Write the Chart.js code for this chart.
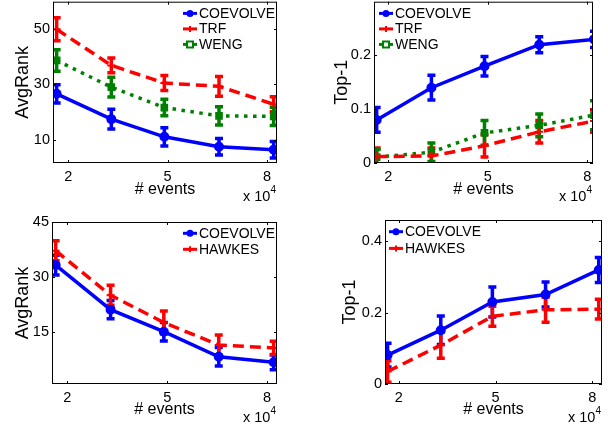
<!DOCTYPE html>
<html>
<head>
<meta charset="utf-8">
<script src="https://cdn.jsdelivr.net/npm/chart.js@4.4.0/dist/chart.umd.min.js"></script>
<style>
html, body { margin: 0; padding: 0; background: #fff; overflow: hidden; }
#wrap { position: relative; width: 608px; height: 427px; overflow: hidden; }
canvas { position: absolute; }
</style>
</head>
<body>
<div id="wrap">
  <canvas id="c1"></canvas>
  <canvas id="c2"></canvas>
  <canvas id="c3"></canvas>
  <canvas id="c4"></canvas>
</div>
<script>
// number of events (x 10^4)
const events = [1.65, 3.3, 4.9, 6.55, 8.2];
const xTicks = [2, 5, 8];

// top left: AvgRank
const rankCoevolve = [26.6, 17.4, 11.0, 7.4, 6.3];
const rankCoevolveErr = [3.3, 3.6, 3.3, 3.0, 3.0];
const rankTrf = [50.0, 36.9, 30.5, 29.3, 22.8];
const rankTrfErr = [4.2, 2.7, 2.7, 3.6, 2.7];
const rankWeng = [38.7, 29.0, 21.6, 18.6, 18.4];
const rankWengErr = [3.9, 3.6, 3.0, 3.3, 3.3];
const rankTicks = [10, 30, 50];

// top right: Top-1
const top1Coevolve = [0.08, 0.14, 0.18, 0.22, 0.23];
const top1CoevolveErr = [0.023, 0.023, 0.018, 0.015, 0.015];
const top1Trf = [0.012, 0.013, 0.032, 0.058, 0.078];
const top1TrfErr = [0.016, 0.015, 0.021, 0.021, 0.021];
const top1Weng = [0.011, 0.02, 0.056, 0.07, 0.089];
const top1WengErr = [0.014, 0.017, 0.023, 0.021, 0.027];
const top1Ticks = [0, 0.1, 0.2];

// bottom left: AvgRank vs Hawkes
const hkRankCoevolve = [33.3, 21.2, 15.2, 8.4, 6.9];
const hkRankCoevolveErr = [2.7, 2.5, 2.5, 2.5, 2.0];
const hkRankHawkes = [37.2, 25.1, 17.7, 11.6, 10.8];
const hkRankHawkesErr = [2.7, 2.7, 3.1, 2.7, 1.8];
const hkRankTicks = [15, 30, 45];

// bottom right: Top-1 vs Hawkes
const hkTop1Coevolve = [0.081, 0.151, 0.23, 0.251, 0.32];
const hkTop1CoevolveErr = [0.033, 0.04, 0.042, 0.035, 0.035];
const hkTop1Hawkes = [0.035, 0.109, 0.19, 0.208, 0.21];
const hkTop1HawkesErr = [0.03, 0.037, 0.028, 0.035, 0.028];
const hkTop1Ticks = [0, 0.2, 0.4];

const FONT = '"Liberation Sans", Arial, Helvetica, sans-serif';

const styles = {
    COEVOLVE: { color: '#0000ff', dash: [], point: 'circle', r: 4 },
    TRF: { color: '#ff0000', dash: [11, 6], point: 'cross', r: 4 },
    WENG: { color: '#008000', dash: [3.5, 5.5], point: 'rect', r: 4 },
    HAWKES: { color: '#ff0000', dash: [11, 6], point: 'cross', r: 4 }
};

function series(label, ys, errs) {
    const s = styles[label];
    return {
        label: label,
        data: events.map((x, i) => ({ x: x, y: ys[i] })),
        errors: errs,
        showLine: true,
        borderColor: s.color,
        backgroundColor: s.color,
        borderWidth: 3.5,
        borderDash: s.dash,
        pointStyle: s.point,
        pointRadius: s.r,
        pointBorderWidth: 2,
        pointBorderColor: s.color,
        pointBackgroundColor: s.color
    };
}

// error bars, drawn through the chart scales
const errorBars = {
    id: 'errorBars',
    beforeDatasetsDraw(chart) {
        const { ctx, chartArea: a, scales: { x, y } } = chart;
        ctx.save();
        ctx.beginPath();
        ctx.rect(a.left, a.top, a.right - a.left, a.bottom - a.top);
        ctx.clip();
        chart.data.datasets.forEach(ds => {
            ctx.strokeStyle = ds.borderColor;
            ctx.lineWidth = 3.5;
            ctx.setLineDash([]);
            ds.data.forEach((p, i) => {
                const px = x.getPixelForValue(p.x);
                const t = y.getPixelForValue(p.y + ds.errors[i]);
                const b = y.getPixelForValue(p.y - ds.errors[i]);
                ctx.beginPath();
                ctx.moveTo(px, t); ctx.lineTo(px, b);
                ctx.moveTo(px - 4, t); ctx.lineTo(px + 4, t);
                ctx.moveTo(px - 4, b); ctx.lineTo(px + 4, b);
                ctx.stroke();
            });
        });
        ctx.restore();
    }
};

function drawMarker(ctx, style, x, y) {
    ctx.save();
    ctx.setLineDash([]);
    ctx.fillStyle = style.color;
    ctx.strokeStyle = style.color;
    ctx.lineWidth = 2;
    ctx.beginPath();
    if (style.point === 'circle') {
        ctx.arc(x, y, 3.5, 0, Math.PI * 2);
        ctx.fill();
    } else if (style.point === 'rect') {
        ctx.fillStyle = '#fff';
        ctx.rect(x - 3, y - 3, 6, 6);
        ctx.fill();
        ctx.stroke();
    } else {
        ctx.moveTo(x - 4, y); ctx.lineTo(x + 4, y);
        ctx.moveTo(x, y - 3); ctx.lineTo(x, y + 3);
        ctx.stroke();
    }
    ctx.restore();
}

// box, inward ticks, legend and exponent label
const frame = {
    id: 'frame',
    afterDraw(chart) {
        const { ctx, chartArea: a, scales: { x, y } } = chart;
        const opt = chart.options.plugins.frame;
        ctx.save();
        ctx.strokeStyle = '#000';
        ctx.lineWidth = 1;
        ctx.setLineDash([]);
        ctx.strokeRect(a.left + 0.5, a.top + 0.5, a.right - a.left - 1, a.bottom - a.top - 1);
        ctx.beginPath();
        x.ticks.forEach(t => {
            const px = Math.round(x.getPixelForValue(t.value)) + 0.5;
            ctx.moveTo(px, a.bottom); ctx.lineTo(px, a.bottom - 3);
            ctx.moveTo(px, a.top); ctx.lineTo(px, a.top + 3);
        });
        y.ticks.forEach(t => {
            const py = Math.round(y.getPixelForValue(t.value)) + 0.5;
            ctx.moveTo(a.left, py); ctx.lineTo(a.left + 3, py);
            ctx.moveTo(a.right, py); ctx.lineTo(a.right - 3, py);
        });
        ctx.stroke();

        // legend
        const lx = a.left + opt.legendX;
        let ly = a.top + opt.legendY;
        chart.data.datasets.forEach(ds => {
            const s = styles[ds.label];
            ctx.strokeStyle = s.color;
            ctx.lineWidth = 3;
            ctx.setLineDash([]);
            ctx.beginPath();
            ctx.moveTo(lx - 16, ly); ctx.lineTo(lx - 2, ly);
            ctx.stroke();
            drawMarker(ctx, s, lx - 9, ly);
            ctx.fillStyle = '#000';
            ctx.font = '14px ' + FONT;
            ctx.textBaseline = 'middle';
            ctx.textAlign = 'left';
            ctx.fillText(ds.label, lx, ly + 0.5);
            ly += opt.legendGap;
        });

        // x 10^4
        const ey = opt.expY - chart.canvas.offsetTop;
        const right = a.right - 1;
        ctx.fillStyle = '#000';
        ctx.textAlign = 'right';
        ctx.textBaseline = 'middle';
        ctx.font = '10px ' + FONT;
        ctx.fillText('4', right, ey - 7);
        const w4 = ctx.measureText('4').width;
        ctx.font = '14.5px ' + FONT;
        ctx.fillText('x 10', right - w4, ey);
        ctx.restore();
    }
};

function makePanel(id, cfg, datasets) {
    const c = document.getElementById(id);
    const cv = cfg.canvas, ar = cfg.area;
    c.width = cv.w; c.height = cv.h;
    c.style.left = cv.x + 'px';
    c.style.top = cv.y + 'px';
    c.style.width = cv.w + 'px';
    c.style.height = cv.h + 'px';

    const yAxisW = ar.l - cv.x;
    const xAxisH = cfg.xAxisH;
    const padBottom = (cv.y + cv.h) - (ar.b + xAxisH);
    const yTitleSize = 18, xTitleSize = 16;
    const yTitlePad = cfg.yTitleX - cv.x - yTitleSize * 1.2 / 2;
    const xTitlePad = ar.b + xAxisH - xTitleSize * 1.2 / 2 - cfg.xTitleY;

    return new Chart(c.getContext('2d'), {
        type: 'scatter',
        data: { datasets: datasets },
        options: {
            responsive: false,
            animation: false,
            devicePixelRatio: 1,
            layout: {
                padding: { left: 0, top: ar.t - cv.y, right: (cv.x + cv.w) - ar.r, bottom: padBottom }
            },
            scales: {
                x: {
                    type: 'linear',
                    min: cfg.xMin,
                    max: cfg.xMax,
                    afterBuildTicks: s => { s.ticks = xTicks.map(v => ({ value: v })); },
                    afterFit: s => { s.height = xAxisH; },
                    grid: { display: false, drawTicks: false },
                    border: { display: false },
                    ticks: {
                        color: '#000',
                        padding: 5,
                        font: { family: FONT, size: 14.5 },
                        callback: v => String(v)
                    },
                    title: {
                        display: true,
                        text: '# events',
                        color: '#000',
                        font: { family: FONT, size: xTitleSize },
                        padding: { top: 0, bottom: xTitlePad }
                    }
                },
                y: {
                    type: 'linear',
                    min: cfg.yMin,
                    max: cfg.yMax,
                    afterBuildTicks: s => { s.ticks = cfg.yTicks.map(v => ({ value: v })); },
                    afterFit: s => { s.width = yAxisW; },
                    grid: { display: false, drawTicks: false },
                    border: { display: false },
                    ticks: {
                        color: '#000',
                        padding: 3,
                        font: { family: FONT, size: 14.5 },
                        callback: v => String(v)
                    },
                    title: {
                        display: true,
                        text: cfg.yTitle,
                        color: '#000',
                        font: { family: FONT, size: yTitleSize },
                        padding: { top: yTitlePad, bottom: 0 }
                    }
                }
            },
            plugins: {
                legend: { display: false },
                tooltip: { enabled: false },
                frame: {
                    legendX: cfg.legendX,
                    legendY: cfg.legendY,
                    legendGap: cfg.legendGap,
                    expY: cfg.expY
                }
            }
        },
        plugins: [errorBars, frame]
    });
}

makePanel('c1', {
    canvas: { x: 0, y: -10, w: 300, h: 220 },
    area: { l: 53, t: 1, r: 277, b: 163 },
    xAxisH: 42, xMin: 1.54, xMax: 8.3,
    yMin: 1.5, yMax: 60, yTicks: rankTicks, yTitle: 'AvgRank',
    yTitleX: 23, xTitleY: 190, expY: 197,
    legendX: 146, legendY: 11.7, legendGap: 15.5
}, [
    series('COEVOLVE', rankCoevolve, rankCoevolveErr),
    series('TRF', rankTrf, rankTrfErr),
    series('WENG', rankWeng, rankWengErr)
]);

makePanel('c2', {
    canvas: { x: 300, y: -10, w: 308, h: 220 },
    area: { l: 374, t: 1, r: 593, b: 163 },
    xAxisH: 42, xMin: 1.57, xMax: 8.17,
    yMin: 0, yMax: 0.3, yTicks: top1Ticks, yTitle: 'Top-1',
    yTitleX: 342, xTitleY: 190, expY: 197,
    legendX: 21, legendY: 11.7, legendGap: 15.5
}, [
    series('COEVOLVE', top1Coevolve, top1CoevolveErr),
    series('TRF', top1Trf, top1TrfErr),
    series('WENG', top1Weng, top1WengErr)
]);

makePanel('c3', {
    canvas: { x: 0, y: 205, w: 300, h: 222 },
    area: { l: 52, t: 222, r: 277, b: 384 },
    xAxisH: 43, xMin: 1.54, xMax: 8.3,
    yMin: 1, yMax: 45, yTicks: hkRankTicks, yTitle: 'AvgRank',
    yTitleX: 23, xTitleY: 410, expY: 418,
    legendX: 147, legendY: 11.3, legendGap: 16
}, [
    series('COEVOLVE', hkRankCoevolve, hkRankCoevolveErr),
    series('HAWKES', hkRankHawkes, hkRankHawkesErr)
]);

makePanel('c4', {
    canvas: { x: 300, y: 205, w: 308, h: 222 },
    area: { l: 385, t: 220, r: 603, b: 384 },
    xAxisH: 43, xMin: 1.57, xMax: 8.3,
    yMin: 0, yMax: 0.46, yTicks: hkTop1Ticks, yTitle: 'Top-1',
    yTitleX: 350, xTitleY: 410, expY: 418,
    legendX: 20, legendY: 11.7, legendGap: 16.7
}, [
    series('COEVOLVE', hkTop1Coevolve, hkTop1CoevolveErr),
    series('HAWKES', hkTop1Hawkes, hkTop1HawkesErr)
]);
</script>
</body>
</html>
